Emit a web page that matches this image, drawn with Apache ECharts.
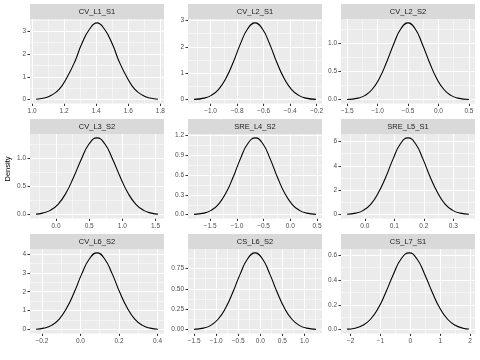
<!DOCTYPE html>
<html><head><meta charset="utf-8">
<script src="https://cdn.jsdelivr.net/npm/echarts@6/dist/echarts.min.js"></script>
<style>html,body{margin:0;padding:0;background:#fff}#c{width:480px;height:360px}</style>
</head><body><div id="c"></div>
<script>
const panelNames = ['CV_L1_S1','CV_L2_S1','CV_L2_S2','CV_L3_S2','SRE_L4_S2','SRE_L5_S1','CV_L6_S2','CS_L6_S2','CS_L7_S1'];

const x1 = [1.025,1.075,1.12,1.17,1.215,1.265,1.31,1.36,1.405,1.45,1.5,1.545,1.595,1.64,1.69,1.735,1.785];
const d1 = [0.02,0.07,0.19,0.46,0.94,1.64,2.45,3.11,3.37,3.11,2.45,1.64,0.94,0.46,0.19,0.07,0.02];
const x2 = [-1.124,-1.049,-0.994,-0.939,-0.884,-0.829,-0.775,-0.72,-0.665,-0.61,-0.555,-0.501,-0.446,-0.391,-0.336,-0.281,-0.206];
const d2 = [0.011,0.058,0.163,0.393,0.809,1.417,2.113,2.686,2.91,2.686,2.113,1.417,0.809,0.393,0.163,0.058,0.011];
const x3 = [-1.5,-1.32,-1.203,-1.086,-0.969,-0.852,-0.734,-0.617,-0.5,-0.383,-0.266,-0.148,-0.031,0.086,0.203,0.32,0.5];
const d3 = [0.004,0.027,0.076,0.184,0.378,0.662,0.987,1.255,1.36,1.255,0.987,0.662,0.378,0.184,0.076,0.027,0.004];
const x4 = [-0.3,-0.203,-0.086,0.031,0.148,0.265,0.383,0.5,0.617,0.734,0.851,0.969,1.086,1.203,1.32,1.437,1.535];
const d4 = [0.01,0.027,0.076,0.184,0.378,0.662,0.987,1.255,1.36,1.255,0.987,0.662,0.378,0.184,0.076,0.027,0.01];
const x5 = [-1.8,-1.618,-1.481,-1.344,-1.207,-1.07,-0.934,-0.797,-0.65,-0.513,-0.376,-0.24,-0.103,0.034,0.171,0.308,0.48];
const d5 = [0.005,0.023,0.065,0.157,0.324,0.567,0.846,1.075,1.165,1.075,0.846,0.567,0.324,0.157,0.065,0.023,0.005];
const x6 = [-0.06,-0.031,-0.005,0.02,0.045,0.071,0.096,0.121,0.1465,0.172,0.197,0.222,0.248,0.273,0.298,0.324,0.353];
const d6 = [0.031,0.125,0.353,0.851,1.751,3.068,4.574,5.815,6.3,5.815,4.574,3.068,1.751,0.851,0.353,0.125,0.031];
const x7 = [-0.23,-0.19,-0.15,-0.111,-0.072,-0.032,0.007,0.047,0.086,0.125,0.165,0.204,0.244,0.283,0.322,0.362,0.402];
const d7 = [0.023,0.08,0.227,0.547,1.126,1.972,2.94,3.738,4.05,3.738,2.94,1.972,1.126,0.547,0.227,0.08,0.023];
const x8 = [-1.5,-1.29,-1.123,-0.956,-0.789,-0.622,-0.454,-0.287,-0.12,0.047,0.214,0.382,0.549,0.716,0.883,1.05,1.26];
const d8 = [0.004,0.019,0.053,0.128,0.263,0.46,0.686,0.872,0.945,0.872,0.686,0.46,0.263,0.128,0.053,0.019,0.004];
const x9 = [-2.12,-1.85,-1.593,-1.336,-1.079,-0.822,-0.564,-0.307,-0.04,0.217,0.474,0.732,0.989,1.246,1.503,1.76,1.96];
const d9 = [0.004,0.012,0.035,0.084,0.172,0.302,0.45,0.572,0.62,0.572,0.45,0.302,0.172,0.084,0.035,0.012,0.005];

const xTicks = [
  [1.0,1.2,1.4,1.6,1.8],
  [-1.0,-0.8,-0.6,-0.4,-0.2],
  [-1.5,-1.0,-0.5,0.0,0.5],
  [0.0,0.5,1.0,1.5],
  [-1.5,-1.0,-0.5,0.0,0.5],
  [0.0,0.1,0.2,0.3],
  [-0.2,0.0,0.2,0.4],
  [-1.5,-1.0,-0.5,0.0,0.5,1.0],
  [-2,-1,0,1,2]
];
const yTicks = [
  [0,1,2,3],
  [0,1,2,3],
  [0,0.5,1.0],
  [0,0.5,1.0],
  [0,0.3,0.6,0.9,1.2],
  [0,2,4,6],
  [0,1,2,3,4],
  [0,0.25,0.5,0.75],
  [0,0.2,0.4,0.6]
];
const xDigits = [1,1,1,1,1,1,1,1,0];
const yDigits = [0,0,1,1,1,0,0,2,1];

const xs = [x1,x2,x3,x4,x5,x6,x7,x8,x9];
const ds = [d1,d2,d3,d4,d5,d6,d7,d8,d9];

// layout (pixels)
const colLeft = [30, 188, 341];
const rowTop = [19, 134, 249];
const PW = 134, PH = 84.5, SH = 15;
const FONT = 'Liberation Sans, Arial, sans-serif';

function fmt(v, d) { return v.toFixed(d).replace('-', '\u2212'); }
function minors(t, lo, hi) {
  const step = t[1] - t[0];
  const out = [];
  for (let i = -1; i < t.length; i++) {
    const m = (i < 0 ? t[0] - step / 2 : t[i] + step / 2);
    if (m > lo && m < hi) out.push(m);
  }
  return out;
}

const grids = [], xAxes = [], yAxes = [], series = [], graphics = [];
for (let i = 0; i < 9; i++) {
  const r = Math.floor(i / 3), c = i % 3;
  const left = colLeft[c], top = rowTop[r];
  const xd = xs[i], yd = ds[i];
  const xa = Math.min(...xd), xb = Math.max(...xd);
  const xmin = xa - 0.05 * (xb - xa), xmax = xb + 0.05 * (xb - xa);
  const ymax0 = Math.max(...yd);
  const ymin = -0.05 * ymax0, ymax = 1.05 * ymax0;

  grids.push({left: left, top: top, width: PW, height: PH, show: true,
    backgroundColor: '#EBEBEB', borderWidth: 0, containLabel: false});
  xAxes.push({type: 'value', gridIndex: i, min: xmin, max: xmax, position: 'bottom',
    axisLine: {show: false, onZero: false},
    axisTick: {show: true, length: 2.5, lineStyle: {color: '#333333', width: 1}, customValues: xTicks[i]},
    axisLabel: {customValues: xTicks[i], fontSize: 6.5, color: '#4D4D4D', margin: 4, fontFamily: FONT,
      formatter: (v) => fmt(v, xDigits[i])},
    splitLine: {show: false}});
  yAxes.push({type: 'value', gridIndex: i, min: ymin, max: ymax, position: 'left',
    axisLine: {show: false, onZero: false},
    axisTick: {show: true, length: 2.5, lineStyle: {color: '#333333', width: 1}, customValues: yTicks[i]},
    axisLabel: {customValues: yTicks[i], fontSize: 6.5, color: '#4D4D4D', margin: 4, fontFamily: FONT,
      formatter: (v) => fmt(v, yDigits[i])},
    splitLine: {show: false}});

  const gl = [];
  minors(xTicks[i], xmin, xmax).forEach(v => gl.push({xAxis: v, lineStyle: {width: 0.5}}));
  minors(yTicks[i], ymin, ymax).forEach(v => gl.push({yAxis: v, lineStyle: {width: 0.5}}));
  xTicks[i].forEach(v => gl.push({xAxis: v, lineStyle: {width: 1}}));
  yTicks[i].forEach(v => gl.push({yAxis: v, lineStyle: {width: 1}}));

  series.push({type: 'line', xAxisIndex: i, yAxisIndex: i, data: [[xmin, ymin]], showSymbol: false,
    symbol: 'none', lineStyle: {opacity: 0}, silent: true, z: 1,
    markLine: {silent: true, z: 1, symbol: ['none', 'none'], label: {show: false}, animation: false,
      lineStyle: {color: '#FFFFFF', type: 'solid', width: 1},
      emphasis: {disabled: true}, data: gl}});
  series.push({type: 'line', xAxisIndex: i, yAxisIndex: i, z: 10, zlevel: 1,
    data: xd.map((x, k) => [x, yd[k]]), smooth: true, showSymbol: false, symbol: 'none',
    lineStyle: {color: '#000000', width: 1.1}, silent: true});

  graphics.push({type: 'rect', shape: {x: left, y: top - SH, width: PW, height: SH},
    style: {fill: '#D9D9D9'}, silent: true});
  graphics.push({type: 'text', x: left + PW / 2, y: top - SH / 2,
    style: {text: panelNames[i], font: '7.5px ' + FONT, fill: '#1A1A1A', align: 'center', verticalAlign: 'middle'},
    silent: true});
}
graphics.push({type: 'text', x: 8, y: 169, rotation: Math.PI / 2,
  style: {text: 'Density', font: '7.5px ' + FONT, fill: '#000000', align: 'center', verticalAlign: 'middle'},
  silent: true});

const chart = echarts.init(document.getElementById('c'), null, {renderer: 'canvas'});
chart.setOption({
  animation: false,
  backgroundColor: '#FFFFFF',
  grid: grids, xAxis: xAxes, yAxis: yAxes, series: series, graphic: graphics
});
</script></body></html>
